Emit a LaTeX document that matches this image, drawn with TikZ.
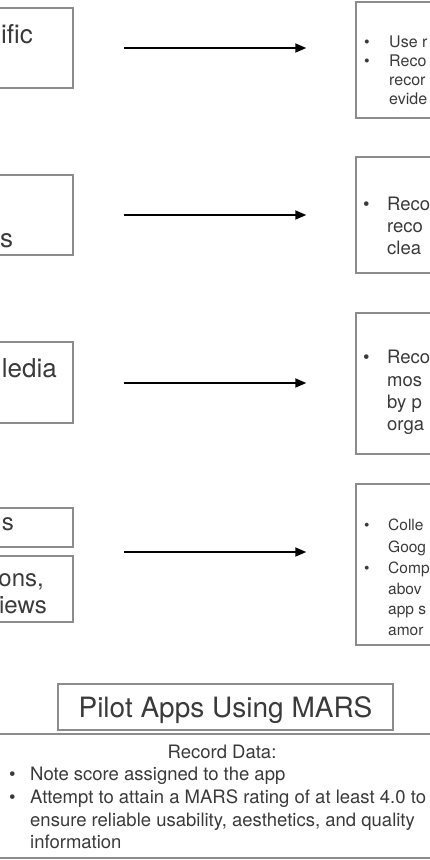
\documentclass[tikz,border=0pt]{standalone}
\usepackage{fontspec}
\setmainfont{TeX Gyre Heros}
\usetikzlibrary{arrows.meta,calc}
\newcommand{\fsz}[1]{\fontsize{#1}{#1}\selectfont}
\definecolor{boxgray}{RGB}{140,140,140}
\definecolor{inkgray}{RGB}{58,58,58}
\tikzset{
  srcbox/.style={draw=boxgray,line width=1.4pt,inner sep=0pt},
  txt/.style={text=inkgray,inner sep=0pt,anchor=base west},
  flow/.style={-{Triangle[length=11pt,width=9pt]},line width=1.8pt,shorten <=50pt,shorten >=49pt},
}
\begin{document}
\begin{tikzpicture}[x=1pt,y=-1pt]
\useasboundingbox (0,0) rectangle (430,860);
\clip (0,0) rectangle (430,860);
\node[srcbox,minimum width=133pt,minimum height=80pt] (sci) at (6.5,48) {};
\node[txt,font=\fsz{26}] (scit) at (1,43) {ific};
\node[srcbox,minimum width=144pt,minimum height=116pt] (rec1) at (428,60) {};
\node[txt,font=\fsz{16}] (b1a) at (364,47) {\textbullet};
\node[txt,font=\fsz{16}] (r1a) at (389,47) {Use r};
\node[txt,font=\fsz{16}] (b1b) at (364,66) {\textbullet};
\node[txt,font=\fsz{16}] (r1b) at (389,66) {Reco};
\node[txt,font=\fsz{16}] (r1c) at (389,85) {recor};
\node[txt,font=\fsz{16}] (r1d) at (389,104) {evide};
\draw[flow] (sci.east) -- (sci.east -| rec1.west);
\node[srcbox,minimum width=133pt,minimum height=80pt] (gui) at (6.5,215) {};
\node[txt,font=\fsz{26}] (guit) at (0,247) {s};
\node[srcbox,minimum width=144pt,minimum height=116pt] (rec2) at (428,215) {};
\node[txt,font=\fsz{18.5}] (b2a) at (363,210) {\textbullet};
\node[txt,font=\fsz{18.5}] (r2a) at (387,210) {Reco};
\node[txt,font=\fsz{18.5}] (r2b) at (387,232) {reco};
\node[txt,font=\fsz{18.5}] (r2c) at (387,254) {clea};
\draw[flow] (gui.east) -- (gui.east -| rec2.west);
\node[srcbox,minimum width=133pt,minimum height=81pt] (med) at (6.5,382.5) {};
\node[txt,font=\fsz{26},anchor=base east] (medt) at (57,377) {ledia};
\node[srcbox,minimum width=144pt,minimum height=141pt] (rec3) at (428,383.5) {};
\node[txt,font=\fsz{18.5}] (b3a) at (363,363) {\textbullet};
\node[txt,font=\fsz{18.5}] (r3a) at (387,363) {Reco};
\node[txt,font=\fsz{18.5}] (r3b) at (387,386) {mos};
\node[txt,font=\fsz{18.5}] (r3c) at (387,408) {by p};
\node[txt,font=\fsz{18.5}] (r3d) at (387,430) {orga};
\draw[flow] ([yshift=-.5pt]med.east) -- ([yshift=-.5pt]med.east -| rec3.west);
\node[srcbox,minimum width=133pt,minimum height=39pt] (apps) at (6.5,527.5) {};
\node[txt,font=\fsz{24},anchor=base east] (appst) at (14,530) {s};
\node[srcbox,minimum width=133pt,minimum height=66pt] (revs) at (6.5,589) {};
\node[txt,font=\fsz{24},anchor=base east] (revsa) at (44,586) {ons,};
\node[txt,font=\fsz{24},anchor=base east] (revsb) at (47,613) {iews};
\coordinate (src4) at ($(apps.south east)!.5!(revs.north east)+(0,.5)$);
\node[srcbox,minimum width=144pt,minimum height=161pt] (rec4) at (428,564.5) {};
\node[txt,font=\fsz{15.5}] (b4a) at (364,530) {\textbullet};
\node[txt,font=\fsz{15.5}] (r4a) at (388,530) {Colle};
\node[txt,font=\fsz{15.5}] (r4b) at (388,552) {Goog};
\node[txt,font=\fsz{15.5}] (b4c) at (364,573) {\textbullet};
\node[txt,font=\fsz{15.5}] (r4c) at (388,573) {Comp};
\node[txt,font=\fsz{15.5}] (r4d) at (388,594) {abov};
\node[txt,font=\fsz{15.5}] (r4e) at (388,614) {app s};
\node[txt,font=\fsz{15.5}] (r4f) at (388,635) {amor};
\draw[flow] (src4) -- (src4 -| rec4.west);
\node[srcbox,minimum width=335pt,minimum height=46pt,text=inkgray,font=\fsz{28},text height=20pt,text depth=0pt] (pilot) at (225.5,707) {Pilot Apps Using MARS};
\node[srcbox,minimum width=500pt,minimum height=124pt] (rec5) at (215,796) {};
\node[txt,font=\fsz{18.5},anchor=base] (r5h) at (222,758) {Record Data:};
\node[txt,font=\fsz{18.5}] (b5a) at (9,780) {\textbullet};
\node[txt,font=\fsz{18.5}] (r5a) at (30,780) {Note score assigned to the app};
\node[txt,font=\fsz{18.5}] (b5b) at (9,803) {\textbullet};
\node[txt,font=\fsz{18.5}] (r5b) at (30,803) {Attempt to attain a MARS rating of at least 4.0 to};
\node[txt,font=\fsz{18.5}] (r5c) at (30,826) {ensure reliable usability, aesthetics, and quality};
\node[txt,font=\fsz{18.5}] (r5d) at (30,848) {information};
\end{tikzpicture}
\end{document}
